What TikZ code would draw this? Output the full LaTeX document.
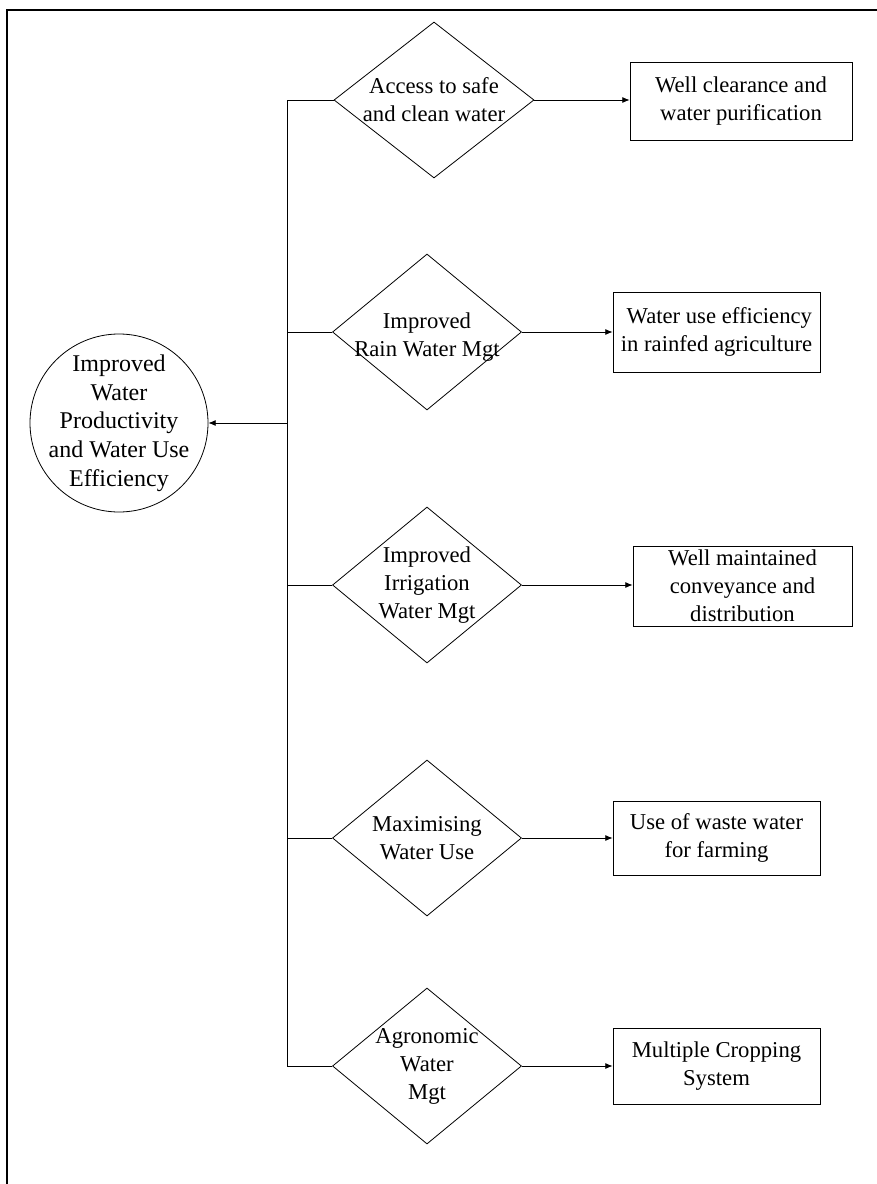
\documentclass[tikz,border=0pt]{standalone}
\usepackage{fontspec}
\setmainfont{Liberation Serif}
\usetikzlibrary{shapes.geometric,arrows.meta}
\begin{document}
\begin{tikzpicture}[x=0.75pt,y=-0.75pt,line width=0.6pt,
    txt/.style={font=\fontsize{17pt}{21pt}\selectfont,align=center,inner sep=0pt},
    choice/.style={draw,diamond,inner sep=0pt,minimum width=141.75pt,minimum height=117pt},
    outcome/.style={draw,rectangle,txt,minimum width=155.25pt,minimum height=60pt},
    goalnode/.style={draw,circle,inner sep=0pt,minimum size=133.5pt},
    arr/.style={-{Latex[length=5.5pt,width=4.5pt]}}]
    \useasboundingbox (0,0) rectangle (877,1184);
    \draw[line width=1.2pt] (7,1184) -- (7,10) -- (877,10);
    % goal
    \node[goalnode,label={[txt,font=\fontsize{18pt}{21.5pt}\selectfont]center:Improved\\Water\\Productivity\\and Water Use\\Efficiency}] (goal) at (119,423) {};
    % strategies
    \node[choice,minimum width=150pt,label={[txt]center:Access to safe\\and clean water}] (s1) at (434,100) {};
    \node[choice,label={[txt,yshift=-4pt]center:Improved\\Rain Water Mgt}] (s2) at (427,332) {};
    \node[choice,label={[txt]center:Improved\\Irrigation\\Water Mgt}] (s3) at (427,585) {};
    \node[choice,label={[txt]center:Maximising\\Water Use}] (s4) at (427,838) {};
    \node[choice,label={[txt]center:Agronomic\\Water\\Mgt}] (s5) at (427,1066) {};
    % outcomes
    \node[outcome,minimum width=166.5pt,minimum height=58.5pt] (o1) at (741,101) {Well clearance and\\water purification};
    \node[outcome] (o2) at (716.5,332) {\ Water use efficiency\\in rainfed agriculture};
    \node[outcome,minimum width=164.25pt] (o3) at (742.5,586) {Well maintained\\conveyance and\\distribution};
    \node[outcome,minimum height=55.5pt] (o4) at (716.5,838) {Use of waste water\\for farming};
    \node[outcome,minimum height=57pt] (o5) at (716.5,1066) {Multiple Cropping\\System};
    % links
    \coordinate (top) at (287,100);
    \coordinate (bot) at (287,1066);
    \coordinate (mid) at (287,423);
    \draw (s1.west) -- (top) -- (bot) -- (s5.west);
    \foreach \i in {2,3,4} {
        \draw (s\i.west) -- (s\i.west -| top);
    }
    \draw[arr] (mid) -- (goal.east);
    \foreach \i in {1,...,5} {
        \draw[arr] (s\i.east) -- (s\i.east -| o\i.west);
    }
\end{tikzpicture}
\end{document}
